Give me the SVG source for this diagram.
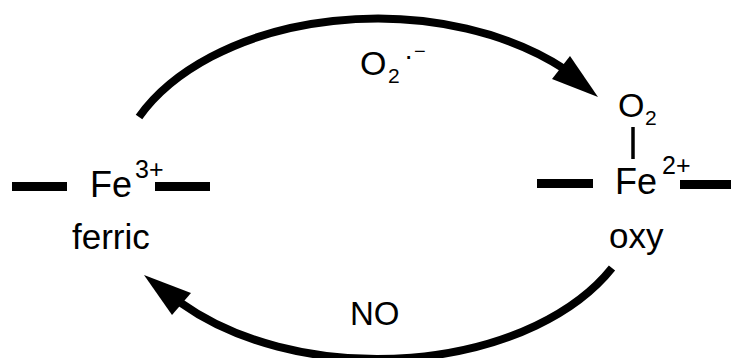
<svg xmlns="http://www.w3.org/2000/svg" width="731" height="358" viewBox="0 0 731 358">
<style>
text{font-family:"Liberation Sans",Arial,sans-serif;fill:#000}
.big{font-size:35px}
.fe{font-size:36px}
.sup{font-size:25px}
.sub{font-size:21px}
.dash{fill:#000}
.arc{fill:none;stroke:#000;stroke-width:8}
.head{fill:#000}
</style>
<rect width="731" height="358" fill="#fff"/>
<g id="connectors">
<path class="arc" d="M139,117 A262,168 0 0 1 566,70"/>
<polygon class="head" points="598,97 570,56 552,79"/>
<path class="arc" d="M612,268 A262,165 0 0 1 181,303"/>
<polygon class="head" points="144,275 191,293 172,315"/>
</g>
<g id="label-superoxide">
<text x="360" y="75" style="font-size:34px">O</text>
<text class="sub" x="388" y="83">2</text>
<text x="404" y="65" style="font-size:28px">·</text>
<text x="414" y="58" style="font-size:20px">−</text>
</g>
<g id="label-no">
<text x="350" y="325" style="font-size:33px">NO</text>
</g>
<g id="ferric">
<rect class="dash" x="12" y="182" width="55" height="9"/>
<rect class="dash" x="155" y="182" width="55" height="9"/>
<text class="fe" x="90" y="197">Fe</text>
<text class="sup" x="135" y="178">3+</text>
<text class="big" x="72" y="249">ferric</text>
</g>
<g id="oxy">
<text x="618" y="117" style="font-size:34px">O</text>
<text class="sub" x="645" y="125">2</text>
<line x1="633" y1="127" x2="633" y2="159" stroke="#000" stroke-width="3.5"/>
<rect class="dash" x="537" y="179" width="56" height="9"/>
<rect class="dash" x="680" y="180" width="51" height="9"/>
<text class="fe" x="615" y="194">Fe</text>
<text class="sup" x="662" y="174">2+</text>
<text class="big" x="609" y="248">oxy</text>
</g>
</svg>
